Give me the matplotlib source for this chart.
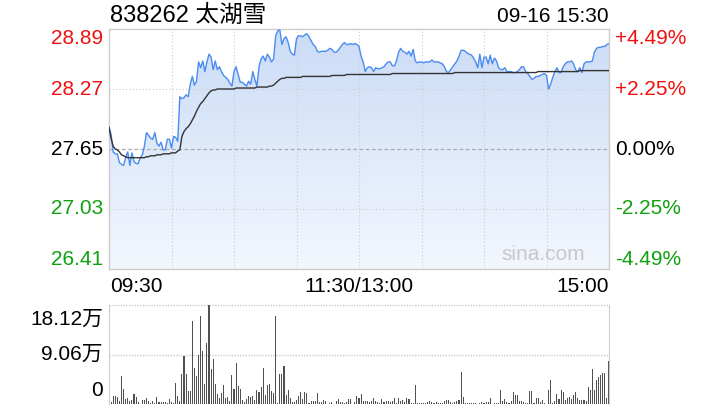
import numpy as np
import matplotlib
matplotlib.use('Agg')
import matplotlib.pyplot as plt
from matplotlib.colors import LinearSegmentedColormap
from matplotlib.transforms import blended_transform_factory, offset_copy

plt.rcParams['font.family'] = ['Liberation Sans', 'Noto Sans CJK SC', 'DejaVu Sans']

title = '838262 太湖雪'
stamp = '09-16 15:30'
prev_close = 27.65
price_ticks = [28.89, 28.27, 27.65, 27.03, 26.41]
pct_labels = ['+4.49%', '+2.25%', '0.00%', '-2.25%', '-4.49%']
time_labels = ['09:30', '11:30/13:00', '15:00']
vol_ticks = [18.12, 9.06, 0]
vol_labels = ['18.12万', '9.06万', '0']

# minute prices 09:30-11:30 (121) + 13:01-15:00 (120)
price = [
    27.88, 27.80, 27.62, 27.60, 27.60, 27.51, 27.49, 27.48, 27.56, 27.62,
    27.48, 27.61, 27.52, 27.50, 27.50, 27.56, 27.59, 27.68, 27.82, 27.79,
    27.76, 27.75, 27.82, 27.71, 27.68, 27.72, 27.64, 27.64, 27.75, 27.75,
    27.66, 27.78, 27.77, 27.73, 28.19, 28.17, 28.18, 28.21, 28.19, 28.32,
    28.40, 28.31, 28.35, 28.55, 28.49, 28.56, 28.45, 28.55, 28.63, 28.60,
    28.47, 28.56, 28.47, 28.50, 28.45, 28.41, 28.39, 28.37, 28.33, 28.30,
    28.45, 28.50, 28.42, 28.34, 28.34, 28.32, 28.30, 28.35, 28.32, 28.45,
    28.37, 28.30, 28.50, 28.58, 28.61, 28.56, 28.63, 28.60, 28.55, 28.58,
    28.82, 28.87, 28.88, 28.73, 28.79, 28.81, 28.75, 28.66, 28.63, 28.62,
    28.79, 28.82, 28.82, 28.81, 28.83, 28.84, 28.81, 28.77, 28.73, 28.71,
    28.66, 28.65, 28.66, 28.66, 28.66, 28.67, 28.69, 28.68, 28.65, 28.65,
    28.67, 28.70, 28.73, 28.75, 28.73, 28.73, 28.74, 28.73, 28.74, 28.73,
    28.71,
    28.61, 28.55, 28.45, 28.49, 28.50, 28.49, 28.45, 28.49, 28.48, 28.48,
    28.49, 28.50, 28.53, 28.55, 28.55, 28.51, 28.51, 28.56, 28.65, 28.69,
    28.66, 28.65, 28.63, 28.66, 28.61, 28.68, 28.56, 28.54, 28.55, 28.55,
    28.54, 28.55, 28.55, 28.55, 28.57, 28.55, 28.55, 28.55, 28.54, 28.53,
    28.50, 28.45, 28.44, 28.47, 28.50, 28.53, 28.56, 28.61, 28.67, 28.67,
    28.66, 28.64, 28.63, 28.62, 28.59, 28.55, 28.49, 28.63, 28.49, 28.60,
    28.60, 28.53, 28.62, 28.53, 28.59, 28.56, 28.49, 28.47, 28.47, 28.49,
    28.45, 28.45, 28.45, 28.44, 28.44, 28.45, 28.47, 28.50, 28.50, 28.45,
    28.43, 28.40, 28.37, 28.38, 28.40, 28.40, 28.41, 28.42, 28.43, 28.41,
    28.27, 28.32, 28.39, 28.45, 28.49, 28.44, 28.44, 28.50, 28.53, 28.55,
    28.55, 28.56, 28.53, 28.47, 28.45, 28.49, 28.44, 28.53, 28.55, 28.55,
    28.55, 28.56, 28.65, 28.69, 28.70, 28.70, 28.71, 28.71, 28.73, 28.74,
]

avg_price = [
    27.87, 27.76, 27.68, 27.65, 27.64, 27.62, 27.59, 27.58, 27.57, 27.56,
    27.56, 27.56, 27.56, 27.56, 27.56, 27.56, 27.56, 27.56, 27.57, 27.57,
    27.58, 27.58, 27.58, 27.59, 27.59, 27.59, 27.60, 27.60, 27.60, 27.60,
    27.61, 27.61, 27.61, 27.63, 27.64, 27.78, 27.83, 27.86, 27.88, 27.91,
    27.95, 27.99, 28.04, 28.08, 28.12, 28.14, 28.17, 28.20, 28.23, 28.25,
    28.26, 28.26, 28.27, 28.27, 28.27, 28.27, 28.27, 28.27, 28.27, 28.27,
    28.27, 28.28, 28.28, 28.28, 28.28, 28.28, 28.28, 28.28, 28.28, 28.28,
    28.28, 28.29, 28.29, 28.29, 28.29, 28.29, 28.29, 28.30, 28.30, 28.31,
    28.33, 28.35, 28.37, 28.38, 28.38, 28.39, 28.39, 28.39, 28.39, 28.39,
    28.39, 28.39, 28.39, 28.40, 28.40, 28.40, 28.40, 28.40, 28.40, 28.40,
    28.40, 28.40, 28.40, 28.40, 28.40, 28.40, 28.40, 28.41, 28.41, 28.41,
    28.41, 28.41, 28.41, 28.41, 28.42, 28.42, 28.42, 28.42, 28.42, 28.42,
    28.42,
    28.42, 28.42, 28.42, 28.42, 28.42, 28.42, 28.42, 28.42, 28.42, 28.42,
    28.42, 28.42, 28.42, 28.42, 28.42, 28.43, 28.43, 28.43, 28.43, 28.43,
    28.43, 28.43, 28.43, 28.43, 28.43, 28.43, 28.43, 28.43, 28.43, 28.43,
    28.43, 28.43, 28.43, 28.43, 28.43, 28.43, 28.43, 28.43, 28.43, 28.43,
    28.43, 28.43, 28.43, 28.43, 28.43, 28.44, 28.44, 28.44, 28.44, 28.44,
    28.44, 28.44, 28.44, 28.44, 28.44, 28.44, 28.44, 28.44, 28.44, 28.44,
    28.44, 28.44, 28.44, 28.44, 28.44, 28.44, 28.44, 28.44, 28.44, 28.44,
    28.44, 28.44, 28.44, 28.44, 28.44, 28.44, 28.44, 28.44, 28.44, 28.44,
    28.44, 28.44, 28.44, 28.44, 28.44, 28.45, 28.45, 28.45, 28.45, 28.45,
    28.45, 28.45, 28.45, 28.45, 28.45, 28.45, 28.45, 28.45, 28.45, 28.45,
    28.45, 28.45, 28.45, 28.45, 28.45, 28.46, 28.46, 28.46, 28.46, 28.46,
    28.46, 28.46, 28.46, 28.46, 28.46, 28.46, 28.46, 28.46, 28.46, 28.46,
]

# minute volume, unit: 万股
volume = [
    0.30, 0.30, 1.39, 1.39, 1.21, 0.48, 5.07, 2.72, 0.91, 1.09,
    0.60, 0.72, 1.81, 1.21, 0.42, 0.05, 0.72, 0.72, 1.03, 0.48,
    0.12, 0.48, 0.12, 1.21, 0.36, 0.36, 0.36, 0.36, 0.12, 0.91,
    0.36, 0.24, 3.81, 1.51, 0.48, 5.44, 8.70, 5.44, 2.30, 2.30,
    15.22, 6.52, 5.07, 9.06, 16.07, 9.78, 3.62, 11.17, 18.12, 6.34,
    8.15, 3.74, 1.81, 1.09, 1.93, 3.50, 1.03, 1.21, 0.48, 5.25,
    2.72, 7.43, 3.26, 2.72, 0.72, 0.42, 0.91, 1.45, 1.33, 1.51,
    0.72, 2.54, 2.23, 3.14, 6.52, 1.63, 3.50, 3.68, 2.30, 1.93,
    16.13, 0.10, 5.44, 5.44, 6.95, 1.69, 2.54, 1.09, 0.36, 0.36,
    0.72, 1.45, 2.17, 0.97, 2.17, 1.99, 0.12, 0.54, 0.54, 0.54,
    1.99, 0.36, 0.36, 0.72, 0.54, 0.05, 0.24, 0.36, 0.05, 0.54,
    0.91, 0.36, 0.36, 0.24, 0.36, 0.91, 0.91, 0.05, 0.36, 1.45,
    1.09,
    1.81, 0.60, 0.48, 0.48, 0.42, 0.60, 1.09, 0.48, 0.30, 0.18,
    0.91, 0.42, 0.48, 0.48, 0.30, 0.60, 1.09, 0.18, 1.09, 0.48,
    0.72, 0.30, 1.09, 0.91, 0.18, 0.18, 3.44, 0.12, 0.12, 0.12,
    0.12, 0.12, 0.30, 0.48, 0.30, 0.18, 0.30, 0.18, 0.18, 0.18,
    0.48, 0.72, 0.72, 0.30, 0.18, 0.30, 0.48, 0.72, 5.92, 1.21,
    0.18, 0.18, 0.12, 0.12, 0.12, 0.18, 0.05, 0.18, 0.30, 0.18,
    0.30, 0.42, 1.09, 0.05, 0.12, 0.18, 0.12, 2.54, 0.60, 0.91,
    0.30, 0.12, 0.48, 2.11, 1.63, 1.63, 0.60, 0.48, 0.30, 0.18,
    0.18, 2.36, 2.36, 0.12, 1.09, 1.09, 0.30, 0.72, 0.18, 0.05,
    2.54, 4.35, 0.18, 0.60, 1.81, 0.91, 2.54, 2.11, 0.72, 1.09,
    1.21, 0.91, 1.63, 2.11, 1.03, 0.72, 0.72, 0.72, 0.60, 3.14,
    2.54, 6.34, 2.54, 4.41, 5.01, 5.32, 5.62, 5.62, 1.09, 7.85,
]

red = '#f01010'
green = '#10a010'
grid_c = '#cccccc'
fs = 15

x = np.arange(len(price))
fig = plt.figure(figsize=(7.2, 4.2), dpi=100)
W, H = 720.0, 420.0

# ---- price panel ----
ax = fig.add_axes([109 / W, 1 - 269 / H, 500 / W, 240 / H])
ax.set_xlim(0, 240)
ax.set_ylim(price_ticks[-1], price_ticks[0])
ax.set_xticks([])
ax.set_yticks([])
for s in ax.spines.values():
    s.set_color(grid_c)
    s.set_linewidth(1)

for xv in range(30, 240, 30):
    ax.axvline(xv, color=grid_c, lw=0.8, ls=(0, (1, 2)), zorder=2)
for yv in [price_ticks[1], price_ticks[3]]:
    ax.axhline(yv, color=grid_c, lw=0.8, ls=(0, (1, 2)), zorder=2)
ax.axhline(prev_close, color='#aaaaaa', lw=0.9, ls=(0, (3, 2)), zorder=2)

# gradient fill under the line
cmap = LinearSegmentedColormap.from_list('sinafill', ['#f3f7fe', '#cbdcf6'])
grad = np.linspace(0, 1, 256).reshape(-1, 1)
img = ax.imshow(grad, cmap=cmap, aspect='auto', origin='lower',
                extent=[0, 240, price_ticks[-1], price_ticks[0]], zorder=1, interpolation='bicubic')
poly = ax.fill_between(x, price, price_ticks[-1], color='none', lw=0)
img.set_clip_path(poly.get_paths()[0], transform=ax.transData)

ax.plot(x, price, color='#4a8cef', lw=1.0, zorder=3)
ax.plot(x, avg_price, color='#333333', lw=1.0, zorder=4)

fig.text(585 / W, 1 - 255 / H, 'sina.com', ha='right', va='center', fontsize=fs, color='#c8c8c8')

tr_l = blended_transform_factory(fig.transFigure, ax.transData)
colors = [red, red, 'black', green, green]
vas = ['top', 'center', 'center', 'center', 'bottom']
for v, lab, c, va in zip(price_ticks, pct_labels, colors, vas):
    ax.text(103 / W, v, f'{v:.2f}', transform=tr_l, ha='right', va=va, color=c, fontsize=fs)
    ax.text(615 / W, v, lab, transform=tr_l, ha='left', va=va, color=c, fontsize=fs)

fig.text(110 / W, 1 - 16 / H, title, ha='left', va='center', fontsize=17)
fig.text(609 / W, 1 - 16 / H, stamp, ha='right', va='center', fontsize=fs)

fig.text(110 / W, 1 - 286 / H, time_labels[0], ha='left', va='center', fontsize=fs)
fig.text(359 / W, 1 - 286 / H, time_labels[1], ha='center', va='center', fontsize=fs)
fig.text(609 / W, 1 - 286 / H, time_labels[2], ha='right', va='center', fontsize=fs)

# ---- volume panel ----
axv = fig.add_axes([109 / W, 1 - 404 / H, 500 / W, 99 / H])
axv.set_xlim(0, 240)
axv.set_ylim(0, vol_ticks[0])
axv.set_xticks([])
axv.set_yticks([])
for k in ['left', 'right']:
    axv.spines[k].set_color(grid_c)
for k in ['top', 'bottom']:
    axv.spines[k].set_visible(False)
axv.axhline(vol_ticks[0], color=grid_c, lw=1.0, ls=(0, (1, 1)), zorder=0, clip_on=False)
axv.axhline(vol_ticks[1], color=grid_c, lw=1.0, ls=(0, (1, 1)), zorder=0)
axv.bar(x, volume, width=0.5, color='#505050', zorder=2, antialiased=False)

tr_v = blended_transform_factory(fig.transFigure, axv.transData)
offs = [-5, 0, 4]
for v, lab, va, dy in zip(vol_ticks, vol_labels, ['top', 'center', 'bottom'], offs):
    axv.text(103 / W, v, lab, transform=offset_copy(tr_v, fig=fig, y=dy, units='dots'),
             ha='right', va=va, fontsize=fs)

fig.savefig('out.png', dpi=100)
